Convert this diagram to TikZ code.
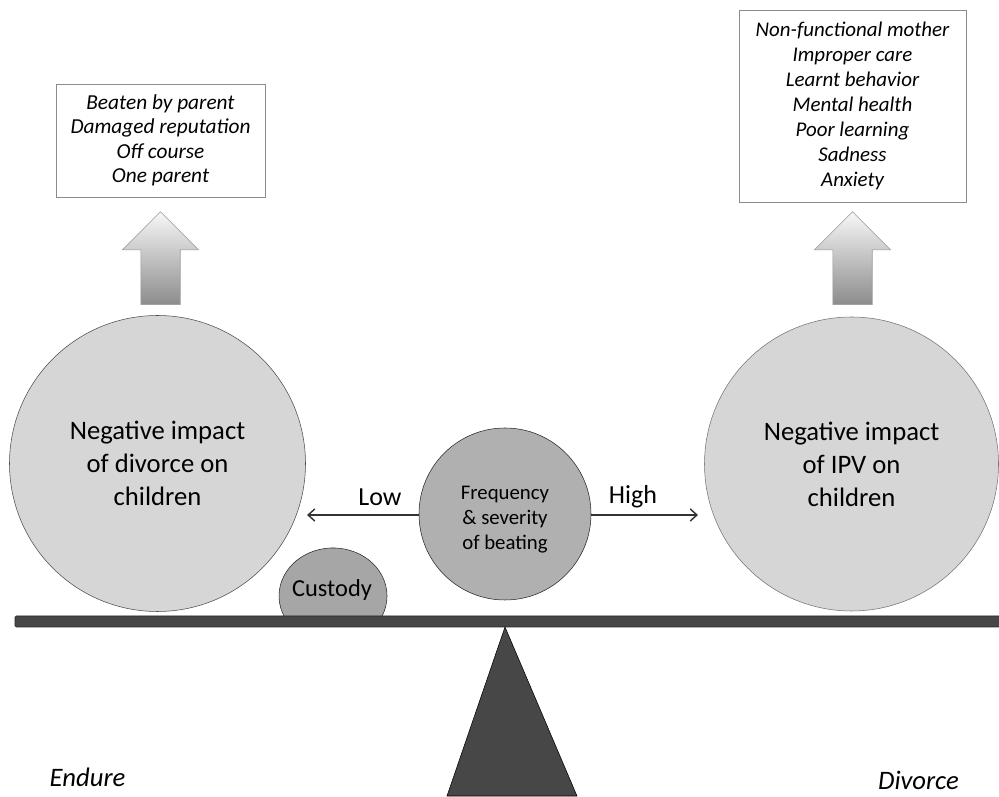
\documentclass[tikz,border=0pt]{standalone}
\usepackage{fontspec}
\setmainfont{Carlito}
\usepackage{tikz}
\usetikzlibrary{positioning}
\usetikzlibrary{shapes.arrows}
\usetikzlibrary{arrows.meta}

\begin{document}
\begin{tikzpicture}[x=0.75pt, y=0.75pt,
        listbox/.style={draw=gray!90, fill=white, align=center, inner sep=0pt},
        uparrow/.style={single arrow, shape border rotate=90, draw=gray!80, top color=gray!6, bottom color=gray!90,
            minimum height=69.75pt, minimum width=57pt, single arrow head extend=13.9pt, inner sep=14.6pt},
        bigball/.style={circle, draw=black!70, fill=gray!32, align=center, inner sep=0pt, font=\fontsize{20}{24.75}\selectfont},
        sidetext/.style={font=\fontsize{19.5}{22}\selectfont},
        sidearrow/.style={-{Straight Barb[length=5pt, width=9pt]}, line width=1.1pt, black!80},
        endtext/.style={font=\fontsize{20}{22}\selectfont\itshape}]

        \useasboundingbox (0,0) rectangle (999,796);

        \node[listbox, minimum width=156.75pt, minimum height=84.75pt, font=\fontsize{16}{18.4}\selectfont\itshape]
            (divlist) at (160.5,655.5) {Beaten by parent\\Damaged reputation\\Off course\\One parent};
        \node[listbox, minimum width=170.25pt, minimum height=144pt, font=\fontsize{15.7}{18.75}\selectfont\itshape]
            (ipvlist) at (852.5,690) {Non-functional mother\\Improper care\\Learnt behavior\\Mental health\\Poor learning\\Sadness\\Anxiety};

        \node[uparrow, below=10.5pt of divlist] (divarrow) {};
        \node[uparrow, below=6.75pt of ipvlist] (ipvarrow) {};

        \node[bigball, minimum size=222pt] (divball) at (157.5,332.5) {Negative impact\\of divorce on\\children};
        \node[bigball, minimum size=220.5pt, draw=black!55] (ipvball) at (851.5,332) {Negative impact\\of IPV on\\children};
        \node[circle, draw=black!85, fill=gray!62, minimum size=129pt, inner sep=0pt] (beating) at (505,282) {};
        \node[align=center, font=\fontsize{15.6}{18.75}\selectfont] (beatingtext) at ([yshift=-4.5pt]beating.center)
            {Frequency\\\& severity\\of beating};

        \coordinate (lowend) at (307,281);
        \coordinate (highend) at (698,281);
        \draw[sidearrow] (beating.west |- lowend) -- (lowend);
        \draw[sidearrow] (beating.east |- highend) -- (highend);
        \node[sidetext] (low) at (380,299) {Low};
        \node[sidetext] (high) at (633,299) {High};

        % weight on the left pan
        \draw[draw=black!85, fill=gray!70] (284.5,179) arc[start angle=206, end angle=-26, x radius=54, y radius=48] -- cycle;
        \node[font=\fontsize{18.3}{20}\selectfont] (custody) at (332,206) {Custody};

        % beam and pivot
        \node[draw=black!85, fill=black!72, rounded corners=1pt, minimum width=746.25pt, minimum height=8.25pt, inner sep=0pt]
            (beam) at (512.5,174.5) {};
        \coordinate (pivot) at (505,169);
        \draw[draw=black, fill=black!72] (pivot) -- (447,0) -- (577,0) -- cycle;

        \node[endtext] (endure) at (87.5,18.5) {Endure};
        \node[endtext] (divorce) at (918.5,16) {Divorce};

    \end{tikzpicture}
\end{document}
